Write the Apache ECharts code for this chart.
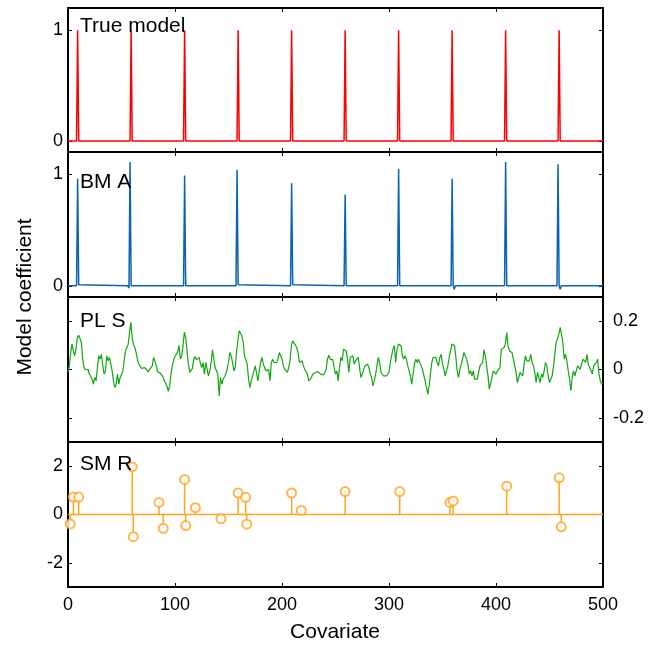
<!DOCTYPE html>
<html>
<head>
<meta charset="utf-8">
<script src="https://cdn.jsdelivr.net/npm/echarts@6/dist/echarts.min.js"></script>
<style>
html, body { margin: 0; padding: 0; background: #fff; }
#chart { width: 660px; height: 646px; }
</style>
</head>
<body>
<div id="chart"></div>
<script>
// x ticks shared by all panels
const xTicks = [0, 100, 200, 300, 400, 500];

// True model: spike positions and heights
const trueX = [9, 59, 109, 159, 209, 259, 309, 359, 409, 459];
const trueY = [1, 1, 1, 1, 1, 1, 1, 1, 1, 1];

// BM A: estimated coefficients (points along the curve)
const bmaX = [0, 8, 9, 10, 11, 56, 57, 58, 59, 108, 109, 110, 143, 144, 145, 157, 158, 159, 160,
  208, 209, 210, 211, 258, 259, 260, 308, 309, 310, 358, 359, 360, 361, 362, 408, 409, 410,
  457, 458, 459, 460, 461, 500];
const bmaY = [0, 0, 0.96, 0.01, 0, 0, -0.02, 1.11, 0, 0, 0.99, 0, 0, 0.01, 0, 0, 1.04, 0.01, 0,
  0, 0.92, 0.01, 0, 0, 0.82, 0, 0, 1.05, 0, 0, 0.96, 0, -0.03, 0, 0, 1.11, 0,
  0, 1.09, 0, -0.03, 0, 0];

// PL S: coefficients read every 1.25 covariates from 0 to 500
const plsStep = 1.25;
const plsY = [
  -0.010, 0.015, 0.070, 0.105, 0.077, 0.057, 0.084, 0.132, 0.142, 0.142,
  0.112, 0.043, 0.008, -0.001, -0.006, 0.001, -0.019, -0.012, -0.040, -0.061,
  -0.033, -0.047, 0.008, 0.057, 0.043, 0.063, 0.015, -0.019, -0.006, 0.057,
  0.036, 0.050, 0.043, -0.006, -0.047, -0.075, -0.061, -0.019, -0.061, -0.033,
  -0.040, -0.006, 0.036, 0.077, 0.091, 0.105, 0.109, 0.195, 0.135, 0.102,
  0.091, 0.068, 0.040, 0.022, 0.015, 0.004, 0.004, 0.008, 0.012, -0.001,
  -0.010, 0.001, -0.001, 0.015, 0.050, 0.054, 0.018, -0.010, -0.012, -0.015,
  -0.023, -0.029, -0.047, -0.057, -0.068, -0.090, -0.068, -0.019, 0.015, 0.040,
  0.054, 0.050, 0.073, 0.100, 0.043, 0.057, 0.098, 0.155, 0.132, 0.077,
  0.022, -0.012, -0.019, 0.004, 0.043, 0.054, 0.040, 0.043, 0.050, 0.026,
  0.008, 0.029, -0.019, 0.029, 0.036, -0.026, -0.006, 0.029, 0.081, 0.043,
  0.008, 0.015, -0.019, -0.109, -0.033, -0.061, -0.040, -0.040, -0.019, 0.001,
  0.029, 0.070, 0.057, 0.029, -0.006, 0.008, 0.070, 0.119, 0.160, 0.153,
  0.139, 0.112, 0.057, 0.063, 0.022, -0.040, -0.075, -0.047, -0.040, -0.006,
  0.015, 0.015, -0.047, -0.006, 0.029, 0.050, 0.022, 0.015, -0.006, -0.006,
  0.001, -0.047, 0.029, 0.043, 0.029, 0.029, 0.029, 0.043, 0.070, 0.070,
  0.043, 0.015, 0.001, 0.008, -0.012, 0.008, 0.036, 0.098, 0.119, 0.109,
  0.102, 0.091, 0.070, 0.029, 0.036, 0.036, 0.015, 0.001, 0.001, -0.019,
  -0.047, -0.051, -0.033, -0.019, -0.015, -0.012, -0.010, -0.010, -0.007, -0.019,
  -0.026, -0.023, -0.012, 0.001, 0.043, 0.059, 0.043, 0.043, 0.040, 0.008,
  -0.019, -0.006, -0.047, 0.008, 0.050, 0.036, 0.084, 0.087, 0.077, 0.043,
  -0.012, 0.050, 0.043, 0.057, 0.022, 0.036, 0.029, 0.050, 0.008, -0.033,
  -0.019, -0.012, 0.015, 0.022, 0.022, 0.008, -0.019, -0.033, -0.068, -0.047,
  -0.019, 0.015, 0.050, 0.029, -0.012, -0.019, -0.026, -0.019, -0.026, -0.019,
  -0.012, 0.029, 0.057, 0.084, 0.098, 0.029, 0.084, 0.105, 0.112, 0.098,
  0.057, 0.043, 0.057, 0.043, 0.015, -0.006, -0.026, -0.061, -0.019, 0.022,
  0.043, 0.029, 0.043, 0.036, 0.015, 0.001, -0.006, -0.047, -0.054, -0.102,
  -0.068, -0.019, 0.029, 0.050, 0.043, 0.050, 0.029, 0.015, 0.050, 0.063,
  0.022, 0.001, -0.026, -0.006, 0.015, 0.050, 0.077, 0.105, 0.105, 0.098,
  0.050, -0.006, -0.033, 0.001, 0.008, 0.043, 0.070, 0.063, 0.043, 0.022,
  -0.019, -0.006, -0.026, -0.006, -0.040, -0.033, -0.040, -0.012, 0.015, 0.008,
  0.029, 0.081, 0.057, 0.015, -0.026, -0.081, -0.081, -0.033, -0.006, 0.001,
  -0.019, -0.006, 0.001, 0.008, 0.084, 0.091, 0.091, 0.105, 0.153, 0.098,
  0.077, 0.077, 0.070, 0.043, 0.015, -0.012, -0.054, -0.033, -0.012, -0.012,
  -0.026, 0.022, 0.057, 0.036, 0.043, 0.036, 0.063, 0.029, 0.015, -0.012,
  -0.054, -0.012, -0.019, -0.054, -0.019, -0.033, -0.006, 0.029, 0.015, -0.026,
  -0.054, -0.061, -0.026, 0.015, 0.063, 0.112, 0.119, 0.146, 0.174, 0.146,
  0.112, 0.043, 0.063, 0.036, -0.006, -0.040, -0.088, -0.033, -0.006, -0.026,
  -0.006, 0.015, 0.015, 0.001, -0.006, 0.043, 0.050, 0.029, 0.063, 0.022,
  0.008, 0.001, -0.019, 0.015, 0.008, 0.029, 0.043, -0.019, -0.047, -0.061,
  -0.054
];

// SM R: stems
const smrX = [2, 5, 10, 60, 61, 85, 89, 109, 110, 119, 143, 159, 166, 167, 209, 218, 259, 310, 357, 360, 410, 459, 461];
const smrY = [-0.39, 0.72, 0.72, 1.97, -0.92, 0.50, -0.57, 1.45, -0.46, 0.28, -0.18, 0.89, 0.71, -0.40, 0.89, 0.17, 0.95, 0.95, 0.50, 0.56, 1.17, 1.52, -0.51];

// y ranges / tick values per panel
const panelNames = ['True model', 'BM A', 'PL S', 'SM R'];
const yMin = [-0.1, -0.1, -0.3, -3];
const yMax = [1.2, 1.2, 0.3, 3];
const yTicks = [[0, 1], [0, 1], [-0.2, 0, 0.2], [-2, 0, 2]];
const labelSide = ['left', 'left', 'right', 'left'];

const FONT = "'Liberation Sans', Arial, sans-serif";
const tops = [8, 152, 297, 442];
const heights = [144, 145, 145, 145];
const nameTops = [16, 172, 311, 454];

// build point lists
let truePts = [[0, 0]];
for (let i = 0; i < trueX.length; i++) {
  truePts.push([trueX[i] - 1, 0], [trueX[i], trueY[i]], [trueX[i] + 1, 0]);
}
truePts.push([500, 0]);
const bmaPts = bmaX.map((x, i) => [x, bmaY[i]]);
const plsPts = plsY.map((y, i) => [i * plsStep, y]);
const smrPts = smrX.map((x, i) => [x, smrY[i]]);

const axisLine = { show: true, onZero: false, lineStyle: { color: '#000', width: 2 } };
const tickStyle = { color: '#000', width: 1 };

let grids = [], xAxes = [], yAxes = [];
for (let i = 0; i < 4; i++) {
  grids.push({ left: 68, right: 57, top: tops[i], height: heights[i], containLabel: false });
  ['bottom', 'top'].forEach(pos => {
    xAxes.push({
      gridIndex: i, type: 'value', position: pos, min: 0, max: 500, interval: 100,
      axisLine: axisLine,
      axisTick: { show: true, inside: true, length: 4, lineStyle: tickStyle },
      axisLabel: { show: i === 3 && pos === 'bottom', fontSize: 18, color: '#000', fontFamily: FONT, margin: 9 },
      splitLine: { show: false }
    });
  });
  ['left', 'right'].forEach(pos => {
    yAxes.push({
      gridIndex: i, type: 'value', position: pos, min: yMin[i], max: yMax[i],
      axisLine: axisLine,
      axisTick: { show: true, inside: true, length: 4, lineStyle: tickStyle, customValues: yTicks[i] },
      axisLabel: {
        show: labelSide[i] === pos, customValues: yTicks[i],
        fontSize: 18, color: '#000', fontFamily: FONT, margin: pos === 'left' ? 5 : 10
      },
      splitLine: { show: false }
    });
  });
}

const orange = '#ffa41f';

const option = {
  animation: false,
  backgroundColor: '#fff',
  grid: grids,
  xAxis: xAxes,
  yAxis: yAxes,
  graphic: panelNames.map((n, i) => ({
    type: 'text', left: 80, top: nameTops[i], z: 100,
    style: { text: n, fontSize: 21, fontFamily: FONT, fill: '#000' }
  })).concat([
    { type: 'text', x: 335, y: 632, style: { text: 'Covariate', fontSize: 21, fontFamily: FONT, fill: '#000', textAlign: 'center', textVerticalAlign: 'middle' } },
    { type: 'text', x: 25, y: 297, rotation: Math.PI / 2, style: { text: 'Model coefficient', fontSize: 21, fontFamily: FONT, fill: '#000', textAlign: 'center', textVerticalAlign: 'middle' } }
  ]),
  series: [
    { type: 'line', xAxisIndex: 0, yAxisIndex: 0, data: truePts, showSymbol: false,
      lineStyle: { color: '#ff0000', width: 1.5 }, itemStyle: { color: '#ff0000' } },
    { type: 'line', xAxisIndex: 2, yAxisIndex: 2, data: bmaPts, showSymbol: false,
      lineStyle: { color: '#0a63b5', width: 1.5 }, itemStyle: { color: '#0a63b5' } },
    { type: 'line', xAxisIndex: 4, yAxisIndex: 4, data: plsPts, showSymbol: false,
      lineStyle: { color: '#12a812', width: 1.2 }, itemStyle: { color: '#12a812' } },
    { type: 'line', xAxisIndex: 6, yAxisIndex: 6, data: [[0, 0], [500, 0]], showSymbol: false,
      lineStyle: { color: orange, width: 1.5 }, itemStyle: { color: orange } },
    { type: 'custom', xAxisIndex: 6, yAxisIndex: 6, data: smrPts,
      renderItem: function (params, api) {
        const p0 = api.coord([api.value(0), 0]);
        const p1 = api.coord([api.value(0), api.value(1)]);
        return { type: 'line', shape: { x1: p0[0], y1: p0[1], x2: p1[0], y2: p1[1] },
          style: { stroke: orange, lineWidth: 1.5 } };
      } },
    { type: 'scatter', xAxisIndex: 6, yAxisIndex: 6, data: smrPts, symbol: 'emptyCircle', symbolSize: 9,
      itemStyle: { color: orange, borderColor: orange, borderWidth: 1.5 }, z: 5 }
  ]
};

const chart = echarts.init(document.getElementById('chart'));
chart.setOption(option);
</script>
</body>
</html>
